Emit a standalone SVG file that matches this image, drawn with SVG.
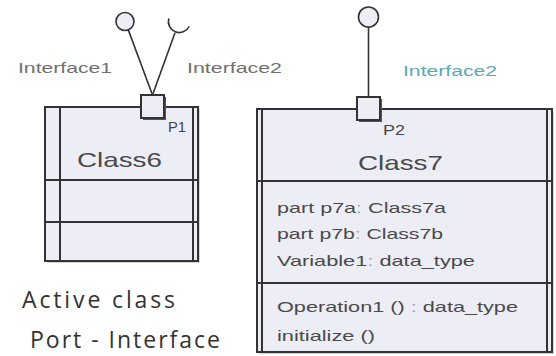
<svg xmlns="http://www.w3.org/2000/svg" width="556" height="356" viewBox="0 0 556 356">
<style>
  .box{fill:#ededf5;stroke:#333;stroke-width:2}
  .shadow{fill:#d4d4d8}
  .pshadow{fill:#555}
  .ln{stroke:#333;stroke-width:2;fill:none}
  .wire{stroke:#333;stroke-width:1.6;fill:none}
  .lol{fill:#ededf5;stroke:#333;stroke-width:1.6}
  .t{font-family:"Liberation Sans",Arial,sans-serif;fill:#555}
  .lbl{font-size:15px;fill:#707070}
  .teal{fill:#5aaab2}
  .name{font-size:21px;fill:#4a4a4a}
  .attr{font-size:15px;fill:#4a4a4a}
  .port{font-size:14px;fill:#444}
  .col{fill:#a0a0c8}
  .cap{font-family:"Open Sans","Noto Sans",sans-serif;font-size:23px;fill:#333}
</style>
<rect width="556" height="356" fill="#ffffff"/>

<g id="connectors">
  <line class="wire" x1="152.5" y1="95" x2="128.3" y2="29.9"/>
  <line class="wire" x1="152.5" y1="95" x2="175" y2="32.7"/>
  <path class="wire" d="M168.8 18.5 A11 11 0 0 0 189.2 26.5"/>
  <line class="wire" x1="368.5" y1="97" x2="368.5" y2="27"/>
</g>

<g id="Interface1">
  <circle class="lol" cx="125" cy="21.5" r="9"/>
  <text class="t lbl" x="18" y="73" textLength="94" lengthAdjust="spacingAndGlyphs">Interface1</text>
</g>
<g id="Interface2-required">
  <text class="t lbl" x="187" y="73" textLength="95" lengthAdjust="spacingAndGlyphs">Interface2</text>
</g>

<g id="Class6">
  <rect class="shadow" x="47" y="109" width="153" height="154"/>
  <rect class="box" x="45" y="107" width="153" height="154"/>
  <line class="ln" x1="60" y1="107" x2="60" y2="261"/>
  <line class="ln" x1="193" y1="107" x2="193" y2="261"/>
  <line class="ln" x1="45" y1="180" x2="198" y2="180"/>
  <line class="ln" x1="45" y1="222" x2="198" y2="222"/>
  <text class="t name" x="77" y="167" textLength="85" lengthAdjust="spacingAndGlyphs">Class6</text>
</g>

<g id="P1">
  <rect class="pshadow" x="143" y="97" width="23" height="23"/>
  <rect class="box" x="141" y="95" width="23" height="23"/>
  <text class="t port" x="168" y="132" textLength="18" lengthAdjust="spacingAndGlyphs">P1</text>
</g>

<g id="Class7">
  <rect class="shadow" x="259" y="111" width="295" height="243"/>
  <rect class="box" x="257" y="109" width="295" height="243"/>
  <line class="ln" x1="262" y1="109" x2="262" y2="352"/>
  <line class="ln" x1="547" y1="109" x2="547" y2="352"/>
  <line class="ln" x1="257" y1="181" x2="552" y2="181"/>
  <line class="ln" x1="257" y1="283" x2="552" y2="283"/>
  <text class="t name" x="358" y="170" textLength="85" lengthAdjust="spacingAndGlyphs">Class7</text>
  <text class="t attr" x="277" y="213" textLength="169" lengthAdjust="spacingAndGlyphs">part p7a<tspan class="col">:</tspan> Class7a</text>
  <text class="t attr" x="277" y="239" textLength="166" lengthAdjust="spacingAndGlyphs">part p7b<tspan class="col">:</tspan> Class7b</text>
  <text class="t attr" x="277" y="266" textLength="198" lengthAdjust="spacingAndGlyphs">Variable1<tspan class="col">:</tspan> data_type</text>
  <text class="t attr" x="277" y="312" textLength="241" lengthAdjust="spacingAndGlyphs">Operation1 () <tspan class="col">:</tspan> data_type</text>
  <text class="t attr" x="277" y="341" textLength="98" lengthAdjust="spacingAndGlyphs">initialize ()</text>
</g>

<g id="P2">
  <rect class="pshadow" x="359" y="99" width="23" height="23"/>
  <rect class="box" x="357" y="97" width="23" height="23"/>
  <text class="t port" x="383" y="135" textLength="22" lengthAdjust="spacingAndGlyphs">P2</text>
</g>

<g id="Interface2-provided">
  <circle class="lol" cx="368.5" cy="17" r="10"/>
  <text class="t lbl teal" x="403" y="76" textLength="94" lengthAdjust="spacingAndGlyphs">Interface2</text>
</g>

<g id="caption">
  <text class="cap" x="22" y="308" textLength="153" lengthAdjust="spacing">Active class</text>
  <text class="cap" x="30" y="348" textLength="190" lengthAdjust="spacing">Port - Interface</text>
</g>
</svg>
